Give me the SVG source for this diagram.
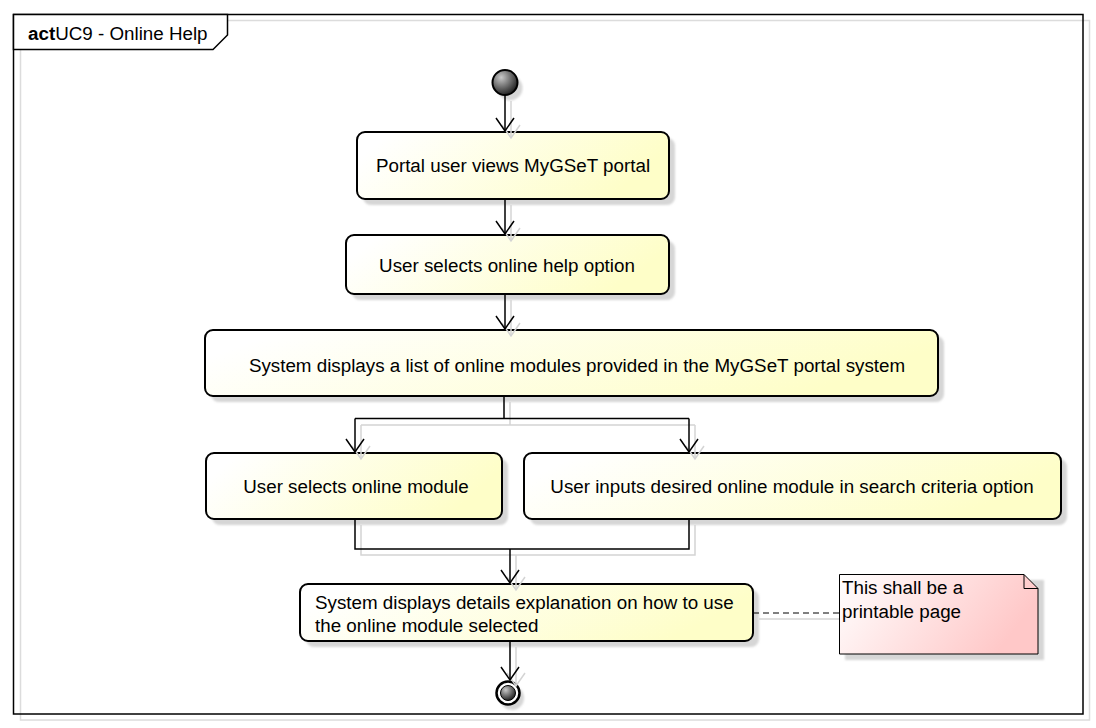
<svg xmlns="http://www.w3.org/2000/svg" width="1096" height="728" viewBox="0 0 1096 728">
<style>
text{font-family:"Liberation Sans",Arial,sans-serif;font-size:18.8px;fill:#000}
.box{stroke:#000;stroke-width:2;fill:url(#gY)}
.shd{fill:#d6d6d6;filter:url(#blur)}
.con{stroke:#000;stroke-width:1.5;fill:none}
.gh{stroke:#d4d4d4;stroke-width:1.5;fill:none}
</style>
<defs>
<linearGradient id="gY" x1="0" y1="0" x2="1" y2="0.25">
<stop offset="0.1" stop-color="#ffffff"/><stop offset="1" stop-color="#fefec8"/>
</linearGradient>
<linearGradient id="gP" x1="0" y1="0" x2="1" y2="0.3">
<stop offset="0" stop-color="#ffffff"/><stop offset="1" stop-color="#ffc8c8"/>
</linearGradient>
<radialGradient id="gD" cx="0.35" cy="0.3" r="0.75">
<stop offset="0" stop-color="#c8c8c8"/><stop offset="1" stop-color="#1a1a1a"/>
</radialGradient>
<filter id="blur" x="-5%" y="-5%" width="110%" height="110%"><feGaussianBlur stdDeviation="1.2"/></filter>
<marker id="arr" viewBox="0 0 16 20" refX="14" refY="10" markerWidth="16" markerHeight="20" markerUnits="userSpaceOnUse" orient="auto">
<path d="M1,1 L14,10 L1,19" fill="none" stroke="#000" stroke-width="1.5"/>
</marker>
<marker id="arrG" viewBox="0 0 16 20" refX="14" refY="10" markerWidth="16" markerHeight="20" markerUnits="userSpaceOnUse" orient="auto">
<path d="M1,1 L14,10 L1,19" fill="none" stroke="#d4d4d4" stroke-width="1.5"/>
</marker>
</defs>
<rect width="1096" height="728" fill="#fff"/>

<g id="frame">
<rect x="20.5" y="20.5" width="1069" height="699.5" fill="none" stroke="#dcdcdc" stroke-width="1.5"/>
<rect x="13.5" y="14.5" width="1069.5" height="699.5" fill="none" stroke="#000" stroke-width="1.5"/>
<path d="M13.5,14.5 H227.5 V35 L213,49.5 H13.5 Z" fill="#fff" stroke="#000" stroke-width="1.5"/>
<text x="28" y="40"><tspan font-weight="bold">act</tspan>UC9 - Online Help</text>
</g>

<g id="start">
<circle cx="510" cy="88" r="12.5" class="shd"/>
<circle cx="505" cy="82.5" r="12.5" fill="url(#gD)" stroke="#000" stroke-width="2"/>
</g>

<g id="n1">
<rect x="363" y="138" width="312" height="67" rx="8" class="shd"/>
<rect x="357" y="132" width="312" height="67" rx="8" class="box"/>
<text x="513" y="172" text-anchor="middle">Portal user views MyGSeT portal</text>
</g>

<g id="n2">
<rect x="352" y="241" width="323" height="59" rx="8" class="shd"/>
<rect x="346" y="235" width="323" height="59" rx="8" class="box"/>
<text x="507" y="272" text-anchor="middle">User selects online help option</text>
</g>

<g id="n3">
<rect x="211" y="336" width="733" height="66" rx="8" class="shd"/>
<rect x="205" y="330" width="733" height="66" rx="8" class="box"/>
<text x="577" y="372" text-anchor="middle">System displays a list of online modules provided in the MyGSeT portal system</text>
</g>

<g id="n4">
<rect x="212" y="459" width="296" height="66" rx="8" class="shd"/>
<rect x="206" y="453" width="296" height="66" rx="8" class="box"/>
<text x="356" y="493" text-anchor="middle">User selects online module</text>
</g>

<g id="n5">
<rect x="530" y="459" width="537" height="66" rx="8" class="shd"/>
<rect x="524" y="453" width="537" height="66" rx="8" class="box"/>
<text x="792" y="493" text-anchor="middle">User inputs desired online module in search criteria option</text>
</g>

<g id="n6">
<rect x="306" y="590" width="453" height="57" rx="8" class="shd"/>
<rect x="300" y="584" width="453" height="57" rx="8" class="box"/>
<text x="315" y="609">System displays details explanation on how to use</text>
<text x="315" y="632">the online module selected</text>
</g>

<g id="note">
<path d="M845,580 H1044 V660 H845 Z" class="shd"/>
<path d="M839.5,574.5 H1024 L1038,588.5 V654 H839.5 Z" fill="url(#gP)" stroke="#000" stroke-width="1"/>
<path d="M1024,574.5 V588.5 H1038" fill="none" stroke="#000" stroke-width="1"/>
<text x="842" y="594">This shall be a</text>
<text x="842" y="618">printable page</text>
</g>

<g id="end">
<circle cx="512" cy="698" r="12" class="shd"/>
<circle cx="508" cy="693" r="11.5" fill="#fff" stroke="#000" stroke-width="2.5"/>
<circle cx="508" cy="693" r="7.5" fill="url(#gD)" stroke="#000" stroke-width="1"/>
</g>

<g id="connectors">
<path class="gh" d="M511,101 V138" marker-end="url(#arrG)"/>
<path class="gh" d="M511,205 V241" marker-end="url(#arrG)"/>
<path class="gh" d="M511,300 V336" marker-end="url(#arrG)"/>
<path class="gh" d="M510,402 V425 M361,425 H695"/>
<path class="gh" d="M361,425 V459" marker-end="url(#arrG)"/>
<path class="gh" d="M695,425 V459" marker-end="url(#arrG)"/>
<path class="gh" d="M361,525 V555 H695 V525"/>
<path class="gh" d="M516,555 V590" marker-end="url(#arrG)"/>
<path class="gh" d="M516,647 V686" marker-end="url(#arrG)"/>
<path class="gh" d="M759,619 H839"/>

<path class="con" d="M505,95 V131" marker-end="url(#arr)"/>
<path class="con" d="M505,199 V234" marker-end="url(#arr)"/>
<path class="con" d="M505,294 V329" marker-end="url(#arr)"/>
<path class="con" d="M504,396 V418.5 M355,418.5 H689"/>
<path class="con" d="M355,418.5 V452" marker-end="url(#arr)"/>
<path class="con" d="M689,418.5 V452" marker-end="url(#arr)"/>
<path class="con" d="M355,519 V549 H689 V519"/>
<path class="con" d="M510,549 V583" marker-end="url(#arr)"/>
<path class="con" d="M510,641 V680" marker-end="url(#arr)"/>
<path d="M753,613 H839" fill="none" stroke="#000" stroke-width="1" stroke-dasharray="6,4"/>
</g>
</svg>
